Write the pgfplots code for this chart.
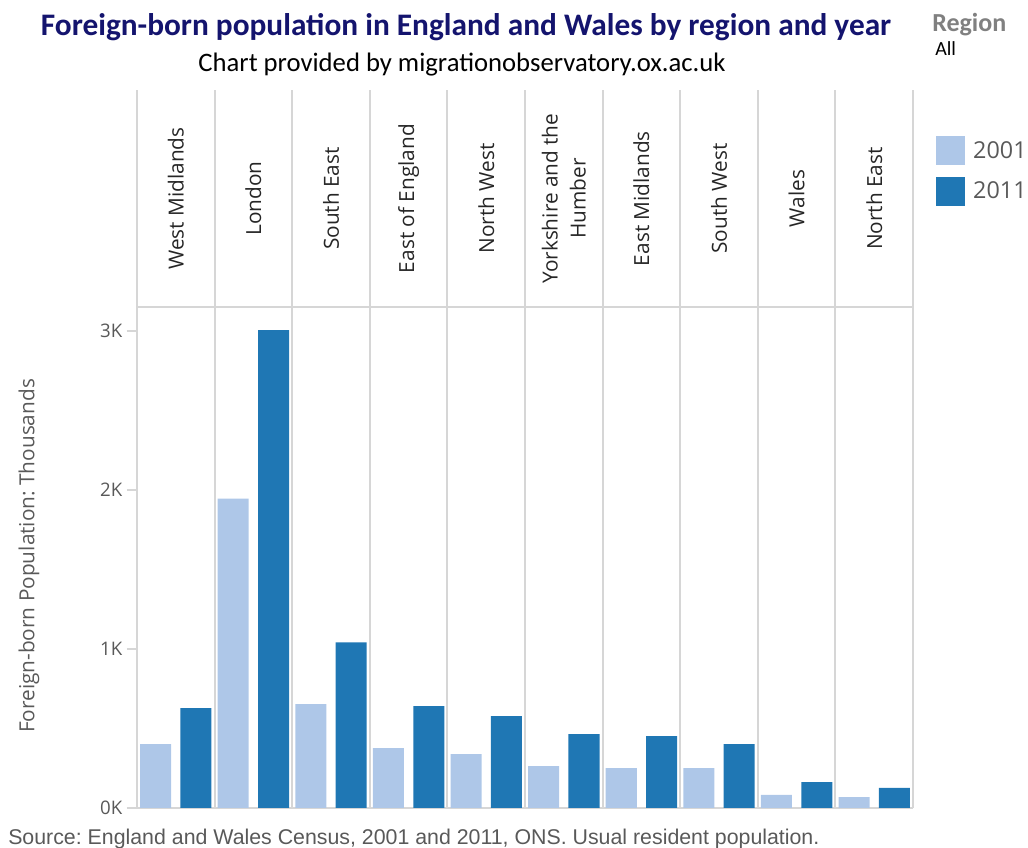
\documentclass[border=0pt]{standalone}
\usepackage{pgfplots}
\pgfplotsset{compat=1.18}
\usepackage{fontspec}
\setmainfont{Open Sans}
\newfontfamily\calibri{Carlito}
\newfontfamily\arial{Liberation Sans}
\frenchspacing
\definecolor{c01}{HTML}{AEC7E8}
\definecolor{c11}{HTML}{1F77B4}
\definecolor{gridc}{HTML}{D6D6D6}
\definecolor{txtg}{HTML}{595959}
\definecolor{navy}{HTML}{14146E}

\begin{document}
\begin{tikzpicture}[px/.style={x=0.75pt,y=-0.75pt,shift={(-102.75pt,606pt)}}]
% page = 1028 x 848 px, 1px = 0.75pt
\path[use as bounding box,px] (0,0) rectangle (1028,848);

\begin{axis}[
    name=main, at={(0,0)}, anchor=south west,
    scale only axis, width=582pt, height=538.5pt,
    xmin=-0.5, xmax=9.5, ymin=0, ymax=4.516,
    axis x line*=bottom, axis y line*=left,
    axis line style={gridc, line width=1.5pt},
    xtick={0.5,1.5,...,9.5}, xticklabels={},
    x tick style={draw=none},
    xmajorgrids,
    major grid style={gridc, line width=1.5pt},
    ytick={0,1,2,3}, yticklabels={0K,1K,2K,3K},
    tick align=outside, major tick length=7.5pt,
    y tick style={gridc, line width=1.5pt},
    yticklabel style={font=\fontsize{14}{16}\selectfont, text=txtg},
    /pgf/number format/assume math mode=true,
    extra y ticks={3.151}, extra y tick labels={},
    extra y tick style={ymajorgrids, major tick length=0pt},
    legend style={at={(axis description cs:1.0296,0.936)}, anchor=north west,
        draw=none, fill=none, inner sep=0pt, row sep=8.5pt,
        font=\fontsize{17.5}{20}\selectfont, text=txtg,
        /tikz/every odd column/.style={column sep=4pt}},
    legend cell align=left,
]
\addplot[ybar, bar width=0.4, bar shift=-0.26, fill=c01, draw=none,
    legend image code/.code={\fill[c01] (0pt,-10.875pt) rectangle (21.75pt,10.875pt);}]
  coordinates {(0,0.402) (1,1.946) (2,0.653) (3,0.377) (4,0.339)
               (5,0.264) (6,0.251) (7,0.251) (8,0.082) (9,0.069)};
\addplot[ybar, bar width=0.4, bar shift=0.26, fill=c11, draw=none,
    legend image code/.code={\fill[c11] (0pt,-10.875pt) rectangle (21.75pt,10.875pt);}]
  coordinates {(0,0.628) (1,3.005) (2,1.042) (3,0.640) (4,0.578)
               (5,0.465) (6,0.452) (7,0.402) (8,0.163) (9,0.126)};
\legend{2001,2011}

% region names in the header band
\begin{scope}[every node/.style={rotate=90, align=center, text=black!85,
        font=\fontsize{15.6}{21}\selectfont}]
\node at (axis cs:0,3.833) {West Midlands};
\node at (axis cs:1,3.833) {London};
\node at (axis cs:2,3.833) {South East};
\node at (axis cs:3,3.833) {East of England};
\node at (axis cs:4,3.833) {North West};
\node at (axis cs:5,3.833) {Yorkshire and the\\Humber};
\node at (axis cs:6,3.833) {East Midlands};
\node at (axis cs:7,3.833) {South West};
\node at (axis cs:8,3.833) {Wales};
\node at (axis cs:9,3.833) {North East};
\end{scope}
\end{axis}

\begin{scope}[px]
\node[anchor=base, inner sep=0, text=navy, font=\calibri\bfseries\fontsize{23.5}{27}\selectfont]
  at (466,36) {Foreign-born population in England and Wales by region and year};
\node[anchor=base, inner sep=0, font=\calibri\fontsize{20}{24}\selectfont]
  at (462,72) {Chart provided by migrationobservatory.ox.ac.uk};
\node[anchor=base west, inner sep=0, text=gray, font=\calibri\bfseries\fontsize{19.5}{23}\selectfont]
  at (932,32) {Region};
\node[anchor=base west, inner sep=0, font=\calibri\fontsize{15}{18}\selectfont]
  at (935,56) {All};
\node[rotate=90, inner sep=0, text=txtg, font=\fontsize{15.6}{18}\selectfont]
  at (29,556) {Foreign-born Population: Thousands};
\node[anchor=base west, inner sep=0, text=txtg, font=\arial\fontsize{16}{19}\selectfont]
  at (8,845) {Source: England and Wales Census, 2001 and 2011, ONS. Usual resident population.};
\end{scope}
\end{tikzpicture}
\end{document}
